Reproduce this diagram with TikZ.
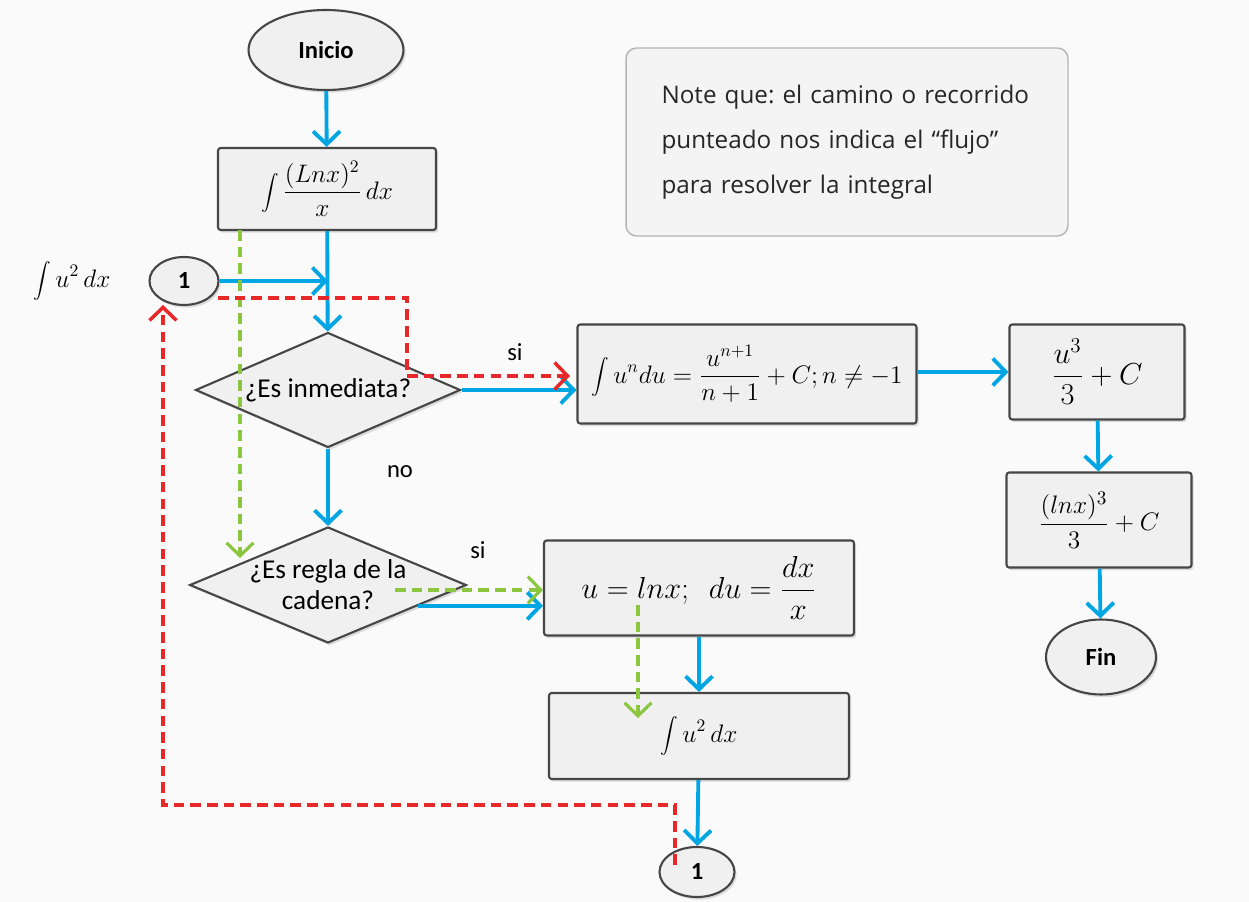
\documentclass[tikz,border=0pt]{standalone}
\usepackage{fontspec}
\setmainfont{Carlito}
\newfontfamily\notefont{Open Sans}
\usetikzlibrary{arrows.meta,shapes.geometric,shadows}
\frenchspacing

\definecolor{flowblue}{RGB}{0,166,228}
\definecolor{flowred}{RGB}{232,40,40}
\definecolor{flowgreen}{RGB}{140,198,63}
\definecolor{boxfill}{RGB}{240,240,240}
\definecolor{boxline}{RGB}{70,70,70}
\definecolor{notefill}{RGB}{244,244,244}
\definecolor{noteline}{RGB}{180,180,180}
\definecolor{paper}{RGB}{250,250,250}

\begin{document}
\begin{tikzpicture}[x=0.02cm, y=-0.02cm, >={Straight Barb[length=2.6mm,width=5.4mm]}]
  \tikzset{box/.style= {draw=boxline, fill=boxfill, rectangle, rounded corners=1.5pt,
      line width=1.2pt, align=center, font=\fontsize{14}{16}\selectfont,
      drop shadow={opacity=0.25, shadow xshift=1.2pt, shadow yshift=-1.5pt}}}
  \tikzset{term/.style= {draw=boxline, fill=boxfill, ellipse, line width=1.2pt,
      font=\fontsize{14}{16}\selectfont\bfseries,
      drop shadow={opacity=0.25, shadow xshift=1.2pt, shadow yshift=-1.5pt}}}
  \tikzset{decision/.style= {draw=boxline, fill=boxfill, diamond, aspect=2.4, inner sep=0pt,
      line width=1.2pt, align=center, font=\fontsize{15.5}{17.5}\selectfont,
      drop shadow={opacity=0.25, shadow xshift=1.2pt, shadow yshift=-1.5pt}}}
  \tikzset{flow/.style= {draw=flowblue, line width=2.2pt, ->}}
  \tikzset{redflow/.style= {draw=flowred, line width=2pt, dash pattern=on 6pt off 3.5pt, ->}}
  \tikzset{greenflow/.style= {draw=flowgreen, line width=1.8pt, dash pattern=on 6pt off 3.5pt, ->}}
  \tikzset{tag/.style= {font=\fontsize{14}{16}\selectfont}}

  \fill[paper] (0,0) rectangle (1249,902);
  \useasboundingbox (0,0) rectangle (1249,902);

  % left column
  \node[term, minimum width=3.1cm, minimum height=1.6cm] (inicio) at (326,50) {Inicio};
  \node[box, minimum width=4.36cm, minimum height=1.64cm] (integral) at (327,189)
    {$\displaystyle\int \frac{(Lnx)^2}{x}\,dx$};
  \node[term, minimum width=1.38cm, minimum height=0.96cm] (uno) at (184,281) {1};
  \node[tag] (unolbl) at (72,281) {$\displaystyle\int u^2\,dx$};
  \node[decision, minimum width=5.3cm, minimum height=2.3cm] (inmediata) at (328,390)
    {¿Es inmediata?};
  \node[decision, minimum width=5.5cm, minimum height=2.32cm] (cadena) at (328,585)
    {¿Es regla de la\\cadena?};

  % middle column
  \node[box, minimum width=6.78cm, minimum height=1.98cm] (potencia) at (747,374)
    {$\displaystyle\int u^n du = \frac{u^{n+1}}{n+1} + C; n \neq -1$};
  \node[box, minimum width=6.2cm, minimum height=1.9cm, font=\fontsize{16.5}{19}\selectfont]
    (sustitucion) at (699,588) {$\displaystyle u = lnx;\;\ du = \frac{dx}{x}$};
  \node[box, minimum width=6.0cm, minimum height=1.72cm] (cuadrado) at (699,736)
    {$\displaystyle\int u^2\,dx$};
  \node[term, minimum width=1.5cm, minimum height=1.0cm] (unob) at (697,872) {1};

  % right column
  \node[box, minimum width=3.5cm, minimum height=1.9cm, font=\fontsize{17}{19}\selectfont]
    (cubo) at (1097,372) {$\displaystyle\frac{u^3}{3} + C$};
  \node[box, minimum width=3.7cm, minimum height=1.9cm, font=\fontsize{15}{17}\selectfont]
    (resultado) at (1099,520) {$\displaystyle\frac{(lnx)^3}{3} + C$};
  \node[term, minimum width=2.2cm, minimum height=1.5cm] (fin) at (1101,657) {Fin};

  \node[draw=noteline, fill=notefill, rounded corners=6pt, line width=0.8pt,
    minimum width=8.84cm, minimum height=3.76cm, text width=7.42cm, align=left,
    text=black!85, font=\notefont\fontsize{13.8}{25.6}\selectfont] (nota) at (847,142)
    {Note que: el camino o recorrido\\punteado nos indica el “flujo”\\para resolver la integral};

  \node[tag] (si1) at (515,352) {si};
  \node[tag] (no1) at (400,472) {no};
  \node[tag] (si2) at (478,550) {si};

  % free ends of the dashed paths
  \coordinate (g1) at (240,230);
  \coordinate (g1end) at (240,558);
  \coordinate (g2) at (395,590);
  \coordinate (g3) at (638,605);
  \coordinate (g3end) at (638,718);
  \coordinate (r1) at (218,298);
  \coordinate (r1turn) at (407,376);
  \coordinate (r1end) at (570,376);
  \coordinate (r2) at (675,865);
  \coordinate (r2turn) at (675,805);
  \coordinate (r2end) at (163,305);

  \path[flow] (inicio) -- (integral);
  \path[flow] (integral) -- (inmediata);
  \path[flow] (uno.east) -- (uno.east -| inmediata.north);
  \path[flow] (inmediata.east) -- (inmediata.east -| potencia.west);
  \path[flow] (inmediata) -- (cadena);
  \path[flow] (cadena.-13) -- (cadena.-13 -| sustitucion.west);
  \path[flow] (sustitucion) -- (cuadrado);
  \path[flow] (cuadrado) -- (unob);
  \path[flow] (potencia.east |- cubo.west) -- (cubo.west);
  \path[flow] (cubo) -- (resultado);
  \path[flow] (resultado) -- (fin);

  \path[greenflow] (g1) -- (g1end);
  \path[greenflow] (g2) -- (g2 -| sustitucion.west);
  \path[greenflow] (g3) -- (g3end);

  \path[redflow] (r1) -| (r1turn) -- (r1end);
  \path[redflow] (r2) -- (r2turn) -| (r2end);
\end{tikzpicture}
\end{document}
